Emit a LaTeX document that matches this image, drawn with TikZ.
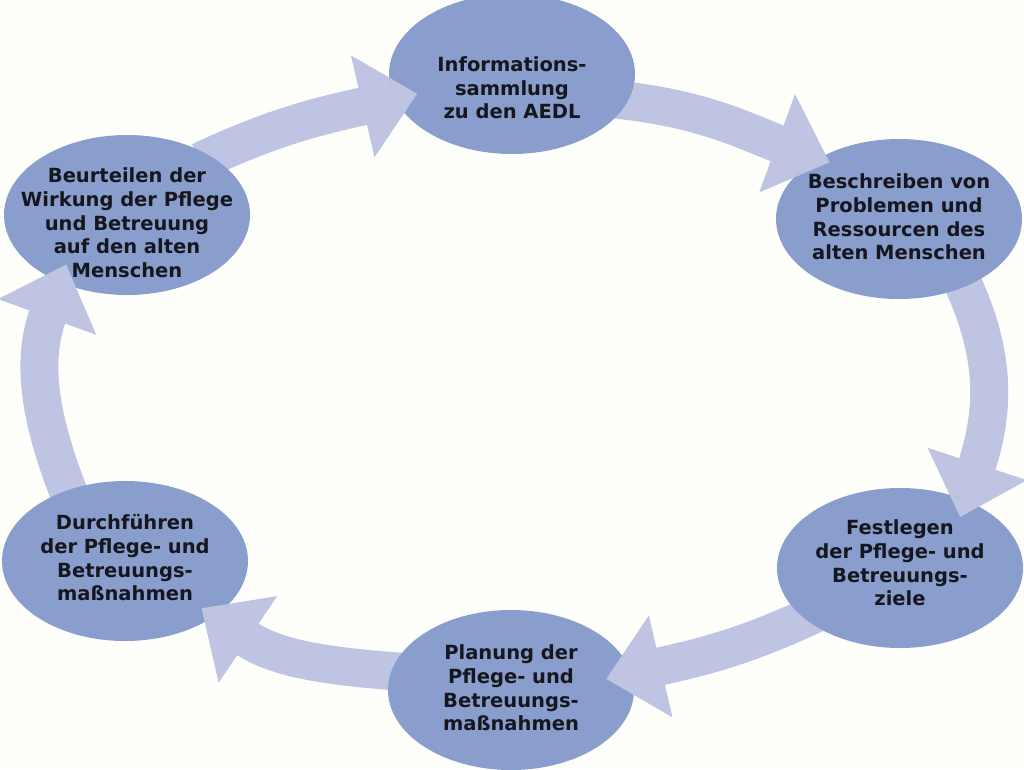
\documentclass[tikz,border=0pt]{standalone}
\usepackage{fontspec}
\setmainfont{DejaVu Sans}
\usetikzlibrary{arrows.meta,shapes.geometric}
\definecolor{paper}{HTML}{FEFEFB}
\definecolor{stageblue}{HTML}{8A9ECD}
\definecolor{arrowblue}{HTML}{BEC4E2}
\definecolor{inkdark}{HTML}{16161E}
\pgfdeclarelayer{background}
\pgfsetlayers{background,main}
% shaft below the source stage, head over the target stage
\newcommand{\stagearrow}[3]{%
  \begin{pgfonlayer}{background}
    \draw[cyclearrow,#2] #3;
  \end{pgfonlayer}
  \begin{scope}
    \clip (#1.center) ellipse [x radius=123, y radius=80];
    \draw[cyclearrow,#2] #3;
  \end{scope}}

\begin{document}
\begin{tikzpicture}[x=1pt,y=1pt,
  stage/.style={ellipse,fill=stageblue,minimum width=246pt,minimum height=160pt,inner sep=0pt},
  stagetext/.style={inkdark,align=center,font=\fontsize{19.5}{23.7}\selectfont\bfseries},
  cyclearrow/.style={arrowblue,line width=38pt,-{Triangle[length=56pt,width=101pt]},shorten <=-12pt}]
  \useasboundingbox (0,0) rectangle (1024,-769);
  \begin{pgfonlayer}{background}
    \fill[paper] (0,0) rectangle (1024,-769);
  \end{pgfonlayer}

  % Six stages of the care process
  \node[stage] (info)  at (512,-74)  {};
  \node[stage] (besch) at (899,-219) {};
  \node[stage] (fest)  at (900,-568) {};
  \node[stage] (plan)  at (511,-690) {};
  \node[stage] (durch) at (125,-561) {};
  \node[stage] (beurt) at (127,-215) {};

  % Cycle arrows
  \stagearrow{besch}{shorten >=-12pt}{(info.-13) to[out=-6,in=160] (besch.143)}
  \stagearrow{fest}{shorten >=-18pt}{(besch.-46) to[out=-64,in=72] (fest.46)}
  \stagearrow{plan}{shorten >=-26pt}{(fest.-152) to[out=-155,in=13] (plan.8)}
  \stagearrow{durch}{shorten >=-15pt}{(plan.171) to[out=176,in=-34] (durch.-32)}
  \stagearrow{beurt}{shorten >=-19pt}{(durch.129) to[out=112,in=-110] (beurt.-135)}
  \stagearrow{info}{shorten >=-23pt}{(beurt.35) to[out=25,in=193] (info.-168)}

  % Labels
  \node[stagetext] (infot)  at (512,-88)  {Informations-\\sammlung\\zu den AEDL};
  \node[stagetext] (bescht) at (899,-217) {Beschreiben von\\Problemen und\\Ressourcen des\\alten Menschen};
  \node[stagetext] (festt)  at (900,-563) {Festlegen\\der Pflege- und\\Betreuungs-\\ziele};
  \node[stagetext] (plant)  at (511,-688) {Planung der\\Pflege- und\\Betreuungs-\\maßnahmen};
  \node[stagetext] (durcht) at (125,-558) {Durchführen\\der Pflege- und\\Betreuungs-\\maßnahmen};
  \node[stagetext] (beurtt) at (127,-223) {Beurteilen der\\Wirkung der Pflege\\und Betreuung\\auf den alten\\Menschen};
\end{tikzpicture}
\end{document}
